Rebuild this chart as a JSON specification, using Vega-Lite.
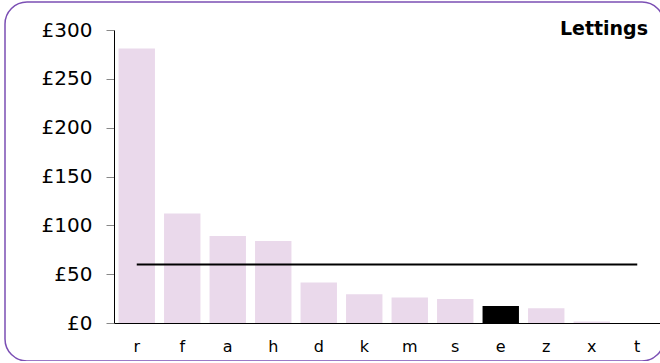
{
  "$schema": "https://vega.github.io/schema/vega-lite/v6.json",
  "autosize": {"type": "none"},
  "padding": {"left": 5, "top": 2, "right": 0, "bottom": 0},
  "width": 659,
  "height": 359,
  "background": "white",
  "config": {
    "view": {"stroke": "#7b4fb4", "strokeWidth": 1.5, "cornerRadius": 22},
    "font": "DejaVu Sans"
  },
  "title": {
    "text": "Lettings",
    "orient": "top",
    "anchor": "end",
    "frame": "group",
    "offset": -52,
    "baseline": "alphabetic",
    "dx": -16,
    "fontSize": 19,
    "fontWeight": "bold",
    "color": "black",
    "font": "DejaVu Sans"
  },
  "data": {
    "values": [
      {"cat": "r", "value": 281, "avg": 60},
      {"cat": "f", "value": 112, "avg": 60},
      {"cat": "a", "value": 89, "avg": 60},
      {"cat": "h", "value": 84, "avg": 60},
      {"cat": "d", "value": 41.5, "avg": 60},
      {"cat": "k", "value": 29.5, "avg": 60},
      {"cat": "m", "value": 26, "avg": 60},
      {"cat": "s", "value": 24.5, "avg": 60},
      {"cat": "e", "value": 17.5, "avg": 60},
      {"cat": "z", "value": 15, "avg": 60},
      {"cat": "x", "value": 1.5, "avg": 60},
      {"cat": "t", "value": 0, "avg": 60}
    ]
  },
  "encoding": {
    "x": {
      "field": "cat",
      "type": "nominal",
      "sort": null,
      "scale": {"range": [109, 655], "paddingInner": 0.2, "paddingOuter": 0.1},
      "axis": {
        "title": null,
        "offset": -38,
        "labelAngle": 0,
        "ticks": false,
        "domainColor": "black",
        "labelColor": "black",
        "labelFontSize": 16,
        "labelPadding": 15,
        "labelFont": "DejaVu Sans"
      }
    }
  },
  "layer": [
    {
      "mark": {"type": "bar"},
      "encoding": {
        "y": {
          "field": "value",
          "type": "quantitative",
          "scale": {"domain": [0, 300], "range": [321, 28], "nice": false},
          "axis": {
            "title": null,
            "offset": -109,
            "values": [0, 50, 100, 150, 200, 250, 300],
            "labelExpr": "'£' + datum.value",
            "grid": false,
            "domainColor": "black",
            "tickColor": "#888888",
            "tickSize": 8,
            "labelColor": "black",
            "labelFontSize": 20,
            "labelPadding": 14,
            "labelFont": "DejaVu Sans"
          }
        },
        "color": {
          "condition": {"test": "datum.cat === 'e'", "value": "black"},
          "value": "#ead9eb"
        }
      }
    },
    {
      "mark": {"type": "line", "color": "black", "strokeWidth": 2},
      "encoding": {
        "y": {"field": "avg", "type": "quantitative"}
      }
    }
  ]
}
